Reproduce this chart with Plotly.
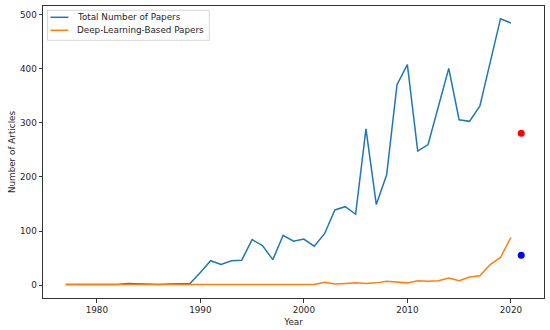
import plotly.graph_objects as go

years = list(range(1977, 2021))
total_papers = [1, 1, 1, 1, 1, 1, 3, 2, 1, 1, 2, 3, 3,
                23, 45, 38, 45, 46, 84, 73, 47, 92, 81, 85,
                72, 95, 139, 145, 131, 289, 149, 204, 371, 408,
                248, 260, 328, 401, 306, 303, 331, 410, 493, 485]
dl_papers = [1, 1, 1, 1, 1, 1, 1, 1, 1, 1, 1, 1, 1,
             1, 1, 1, 1, 1, 1, 2, 1, 2, 1, 1,
             1, 5, 2, 3, 4, 3, 4, 7, 6, 4,
             8, 7, 8, 13, 8, 15, 17, 38, 51, 88]
pred_year = [2021]
pred_total = [281]
pred_dl = [55]
series_names = ["Total Number of Papers", "Deep-Learning-Based Papers"]
series_colors = ["#1f77b4", "#ff7f0e"]

font = dict(family="DejaVu Sans, sans-serif", size=8.8, color="#262626")

fig = go.Figure()
for name, vals, col in zip(series_names, [total_papers, dl_papers], series_colors):
    fig.add_trace(go.Scatter(x=years, y=vals, mode="lines", name=name, showlegend=False,
                             line=dict(color=col, width=1.5)))
fig.add_trace(go.Scatter(x=pred_year, y=pred_total, mode="markers", showlegend=False,
                         marker=dict(color="red", size=7)))
fig.add_trace(go.Scatter(x=pred_year, y=pred_dl, mode="markers", showlegend=False,
                         marker=dict(color="blue", size=7)))

axis_common = dict(showline=True, linecolor="#333333", linewidth=1, mirror=True,
                   ticks="outside", ticklen=3.5, tickcolor="#333333", showgrid=False,
                   zeroline=False, tickfont=font, automargin=False)

fig.update_xaxes(range=[1974.8, 2023.2], tickvals=[1980, 1990, 2000, 2010, 2020],
                 title=dict(text="Year", font=font, standoff=4), **axis_common)
fig.update_yaxes(range=[-24, 516.5], tickvals=[0, 100, 200, 300, 400, 500],
                 title=dict(text="Number of Articles", font=font, standoff=2), **axis_common)

# legend (matplotlib style, drawn in paper coordinates)
fig.add_shape(type="rect", xref="paper", yref="paper", x0=0.009, x1=0.332, y0=0.8825, y1=0.9853,
              line=dict(color="#d6d6d6", width=1), fillcolor="rgba(255,255,255,0.8)", layer="above")
row_y = [0.9613, 0.9168]
for name, col, yy in zip(series_names, series_colors, row_y):
    fig.add_shape(type="line", xref="paper", yref="paper", x0=0.0149, x1=0.0508, y0=yy, y1=yy,
                  line=dict(color=col, width=1.5), layer="above")
    fig.add_annotation(text=name, xref="paper", yref="paper", x=0.0648, y=yy,
                       xanchor="left", yanchor="middle", showarrow=False, font=font)

fig.update_layout(
    width=550, height=330,
    margin=dict(l=42.5, r=5.7, t=5.7, b=32.3),
    paper_bgcolor="white", plot_bgcolor="white",
    font=font,
)

fig.write_html("out.html", config={"displayModeBar": False},
               post_script="document.body.style.margin='0';document.body.style.padding='0';document.body.style.overflow='hidden';")
